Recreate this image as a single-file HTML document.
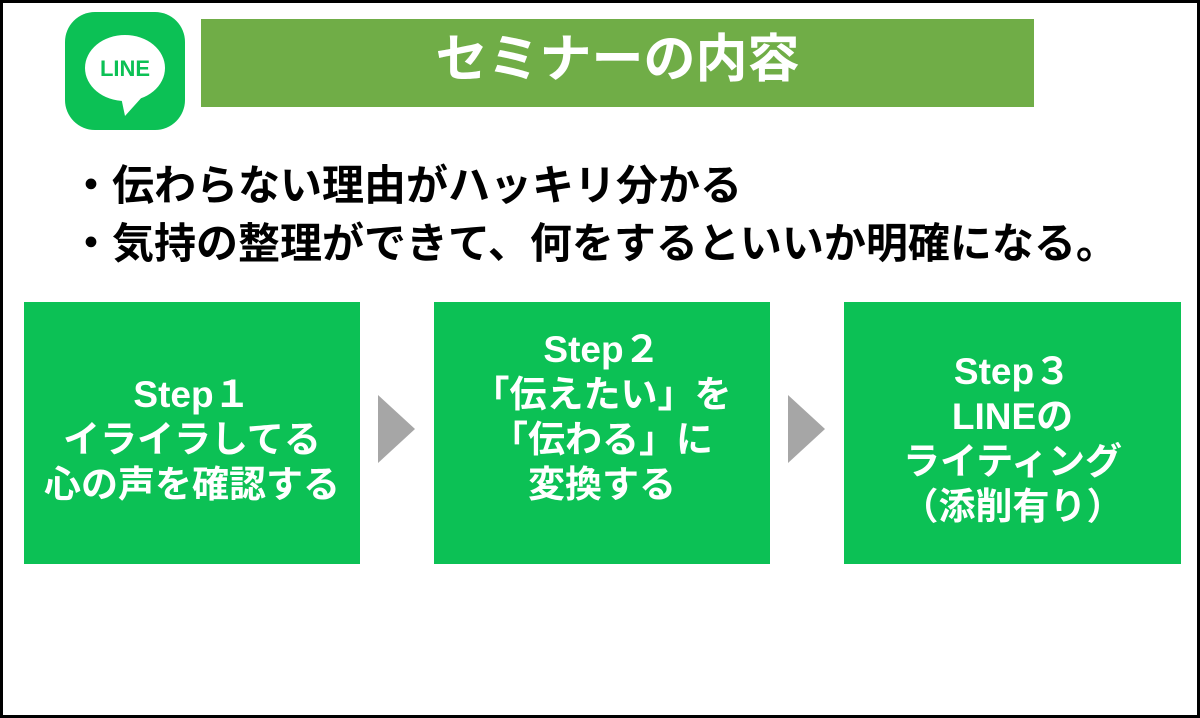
<!DOCTYPE html>
<html><head><meta charset="utf-8"><style>
body{margin:0;width:1200px;height:718px;overflow:hidden;background:#fff;font-family:"Liberation Sans","Noto Sans CJK JP",sans-serif;}
.frame{position:absolute;left:0;top:0;width:1194px;height:712px;border:3px solid #000;}
.logo{position:absolute;left:65px;top:12px;width:120px;height:118px;background:#0cc155;border-radius:30px;}
.title{position:absolute;left:201px;top:19px;width:833px;height:88px;background:#70ad47;color:#fff;font-weight:bold;font-size:52px;line-height:82px;text-align:center;}
.line{position:absolute;left:70px;font-size:42px;font-weight:bold;color:#000;white-space:nowrap;line-height:50px;}
.box{position:absolute;top:302px;height:262px;background:#0cc155;color:#fff;font-weight:bold;font-size:37px;line-height:45px;text-align:center;display:flex;align-items:center;justify-content:center;white-space:nowrap;}
.arr{position:absolute;top:395px;width:0;height:0;border-top:34px solid transparent;border-bottom:34px solid transparent;border-left:37px solid #a6a6a6;}
</style></head><body>
<div class="frame"></div>
<div class="logo">
<svg width="120" height="118" viewBox="0 0 120 118">
<ellipse cx="60" cy="56" rx="40" ry="33" fill="#fff"/>
<path d="M56 85 L60 104 L78 84 Z" fill="#fff"/>
<text x="60" y="64" text-anchor="middle" font-family="Liberation Sans" font-weight="bold" font-size="22" fill="#0cc155">LINE</text>
</svg></div>
<div class="title">セミナーの内容</div>
<div class="line" style="top:161px">・伝わらない理由がハッキリ分かる</div>
<div class="line" style="top:219px">・気持の整理ができて、何をするといいか明確になる。</div>
<div class="box" style="left:24px;width:336px"><div style="margin-top:12px">Step１<br>イライラしてる<br>心の声を確認する</div></div>
<div class="arr" style="left:378px"></div>
<div class="box" style="left:434px;width:336px"><div style="margin-top:-32px">Step２<br>「伝えたい」を<br>「伝わる」に<br>変換する</div></div>
<div class="arr" style="left:788px"></div>
<div class="box" style="left:844px;width:337px"><div style="margin-top:12px">Step３<br>LINEの<br>ライティング<br>（添削有り）</div></div>
</body></html>
